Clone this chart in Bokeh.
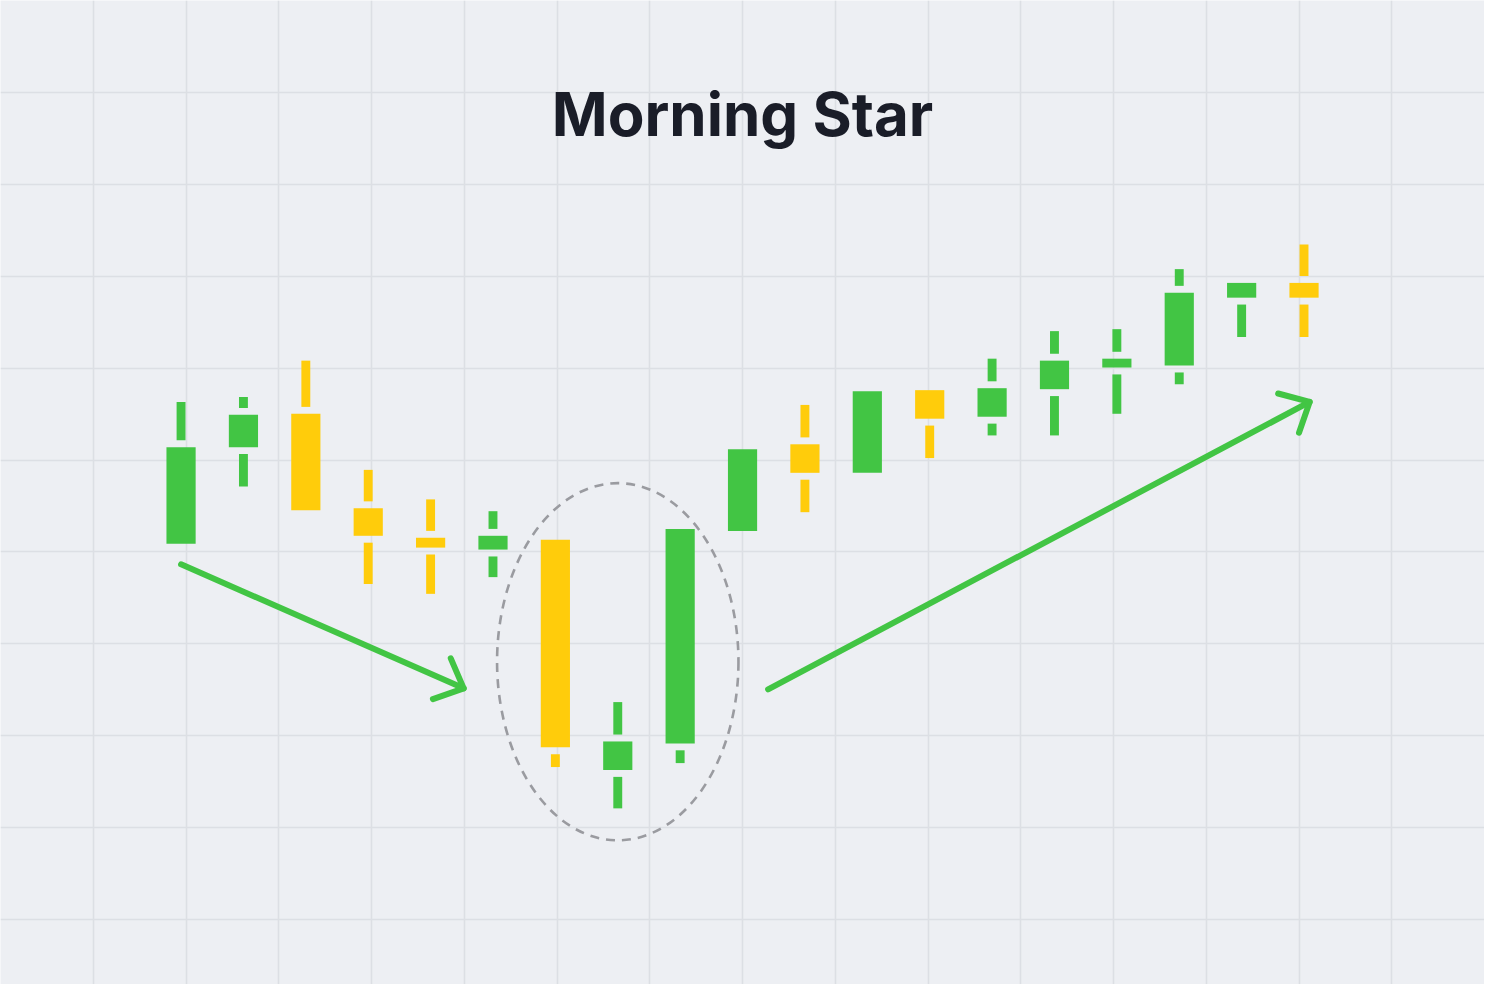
import math
from bokeh.plotting import figure
from bokeh.models import ColumnDataSource, Grid, FixedTicker, Label, Range1d
from bokeh.embed import file_html
from bokeh.resources import INLINE

# ---- data ----
candle_index = list(range(19))
opens  = [44.8, 54.6, 58.0, 48.4, 45.4, 44.2, 45.2, 21.8, 24.5, 46.1, 54.9, 52.0, 60.4, 57.7, 60.5, 62.7, 62.9, 69.8, 71.3]
closes = [54.6, 57.9, 48.2, 45.6, 44.4, 45.6, 24.1, 24.7, 46.3, 54.4, 52.0, 60.3, 57.5, 60.6, 63.4, 63.6, 70.3, 71.3, 69.8]
highs  = [59.2, 59.7, 63.4, 52.3, 49.3, 48.1, 45.2, 28.7, 46.3, 54.4, 58.9, 60.3, 60.4, 63.6, 66.4, 66.6, 72.7, 71.3, 75.2]
lows   = [44.8, 50.6, 48.2, 40.7, 39.7, 41.4, 22.1, 17.9, 22.5, 46.1, 48.0, 52.0, 53.5, 55.8, 55.8, 58.0, 61.0, 65.8, 65.8]

title_text = "Morning Star"
star_index = 7            # the "star" candle, centre of the pattern
pattern_center_price = 32.8
downtrend_arrow = [(0.0, 42.7), (4.53, 30.1)]
uptrend_arrow = [(9.41, 30.0), (18.09, 59.2)]

# ---- style / layout ----
W, H = 1484, 984
REF_W, REF_H = 1500.0, 1000.0
STEP_REF = 63.06                 # candle step in reference pixels
X0_REF = 182.5                   # reference x of candle 0
x_start = -X0_REF / STEP_REF
x_end = (REF_W - X0_REF) / STEP_REF
y_bottom, y_top = 0.0, 100.0
PX_X = W / (x_end - x_start)     # screen px per candle step
PX_Y = H / (y_top - y_bottom)    # screen px per price unit

GREEN = "#42C544"
YELLOW = "#FFCC0B"
BG = "#EDEFF3"
GRID = "#DCDFE4"
GAP = 0.7             # gap between body and wick (price units)

p = figure(width=W, height=H, x_range=Range1d(x_start, x_end), y_range=Range1d(y_bottom, y_top),
           x_axis_type=None, y_axis_type=None, toolbar_location=None,
           output_backend="svg", min_border=0)
p.background_fill_color = BG
p.border_fill_color = BG
p.outline_line_color = None

# grid (square cells)
vx = [(93.75 * k - X0_REF) / STEP_REF for k in range(0, 17)]
hy = [(REF_H - 93.4 * k) / 10.0 for k in range(1, 11)]
p.add_layout(Grid(dimension=0, ticker=FixedTicker(ticks=vx), grid_line_color=GRID, grid_line_width=1.6))
p.add_layout(Grid(dimension=1, ticker=FixedTicker(ticks=hy), grid_line_color=GRID, grid_line_width=1.6))

# candles
colors = [GREEN if c >= o else YELLOW for o, c in zip(opens, closes)]
body_top = [max(o, c) for o, c in zip(opens, closes)]
body_bot = [min(o, c) for o, c in zip(opens, closes)]

up_x, up_top, up_bot, up_col = [], [], [], []
lo_x, lo_top, lo_bot, lo_col = [], [], [], []
for i, h, l, bt, bb, col in zip(candle_index, highs, lows, body_top, body_bot, colors):
    if h > bt + GAP:
        up_x.append(i); up_top.append(h); up_bot.append(bt + GAP); up_col.append(col)
    if l < bb - GAP:
        lo_x.append(i); lo_top.append(bb - GAP); lo_bot.append(l); lo_col.append(col)

body_src = ColumnDataSource(dict(x=candle_index, top=body_top, bottom=body_bot, color=colors))
p.vbar(x="x", top="top", bottom="bottom", width=29.5 / STEP_REF, source=body_src,
       fill_color="color", line_color=None)
p.vbar(x=up_x, top=up_top, bottom=up_bot, width=9 / STEP_REF, fill_color=up_col, line_color=None)
p.vbar(x=lo_x, top=lo_top, bottom=lo_bot, width=9 / STEP_REF, fill_color=lo_col, line_color=None)

# dashed ellipse round the pattern
p.ellipse(x=[star_index], y=[pattern_center_price], width=244 / STEP_REF, height=36.3,
          fill_color=None, line_color="#9A9BA0", line_width=2.6, line_dash="9 7")

# trend arrows
def draw_arrow(start, tip, arm_px=32.6, half_angle=43):
    (x0, y0), (x1, y1) = start, tip
    p.segment(x0=[x0], y0=[y0], x1=[x1], y1=[y1], line_color=GREEN, line_width=6, line_cap="round")
    dx, dy = (x1 - x0) * PX_X, (y1 - y0) * PX_Y
    th = math.atan2(dy, dx) + math.pi
    xs, ys = [], []
    for s in (-1, 1):
        a = th + s * math.radians(half_angle)
        xs.append(x1 + arm_px * math.cos(a) / PX_X)
        ys.append(y1 + arm_px * math.sin(a) / PX_Y)
    p.line(x=[xs[0], x1, xs[1]], y=[ys[0], y1, ys[1]], line_color=GREEN, line_width=6,
           line_cap="round", line_join="round")

draw_arrow(*downtrend_arrow)
draw_arrow(*uptrend_arrow)

# title
p.add_layout(Label(x=(candle_index[0] + candle_index[-1]) / 2, y=88.5, text=title_text,
                   text_align="center", text_baseline="alphabetic",
                   text_font="Inter", text_font_style="bold", text_font_size="60px",
                   text_color="#1A1D28"))

open("out.html", "w").write(file_html(p, INLINE))
